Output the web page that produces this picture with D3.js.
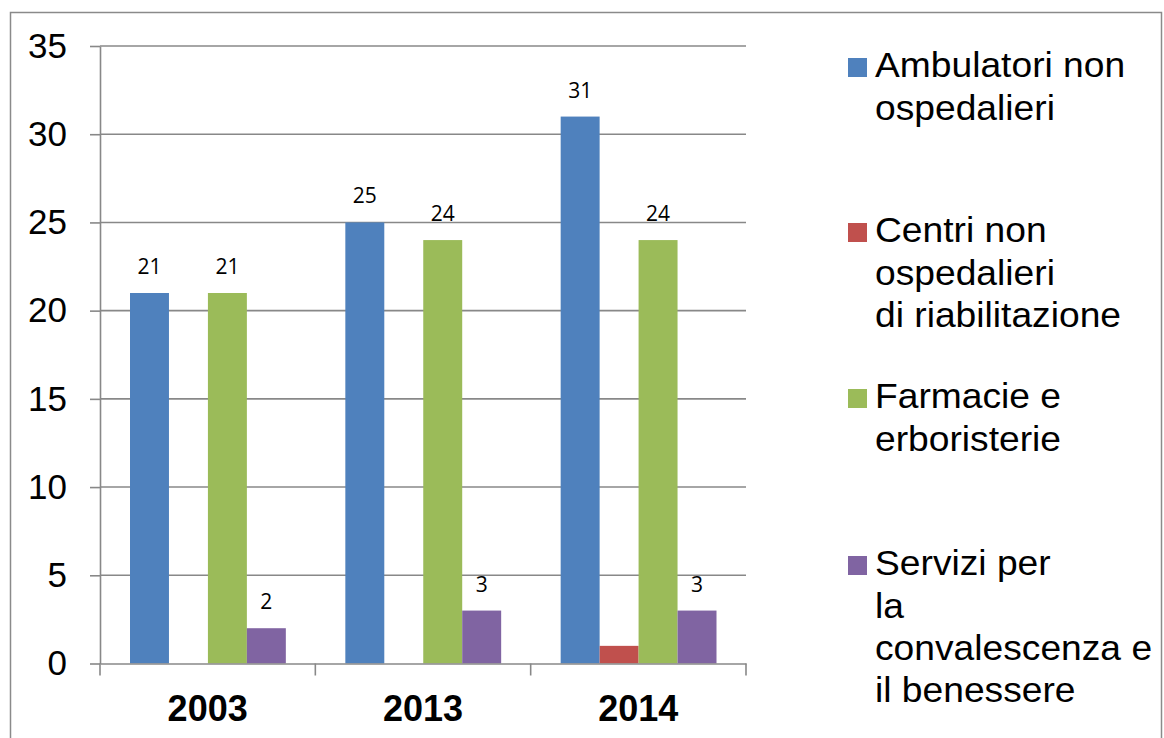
<!DOCTYPE html>
<html><head><meta charset="utf-8">
<script src="https://cdn.jsdelivr.net/npm/d3@7"></script>
<style>body{margin:0;background:#fff}</style>
</head><body>
<svg id="c" width="1164" height="738"></svg>
<script>
const categories = ["2003", "2013", "2014"];
const seriesNames = [
  ["Ambulatori non", "ospedalieri"],
  ["Centri non", "ospedalieri", "di riabilitazione"],
  ["Farmacie e", "erboristerie"],
  ["Servizi per", "la", "convalescenza e", "il benessere"]
];
const ambulatori = [21, 25, 31];
const centri = [0, 0, 1];
const farmacie = [21, 24, 24];
const servizi = [2, 3, 3];
const showLabels = [true, false, true, true];
const colors = ["#4F81BD", "#C0504D", "#9BBB59", "#8064A2"];
const yTicks = [0, 5, 10, 15, 20, 25, 30, 35];

(function () {
const series = [ambulatori, centri, farmacie, servizi];
const svg = d3.select("#c");

svg.append("rect").attr("x", 10.5).attr("y", 12.5).attr("width", 1151).attr("height", 740)
  .attr("fill", "none").attr("stroke", "#8a8a8a").attr("stroke-width", 1.5);

const pLeft = 100, pRight = 746, pTop = 46, pBottom = 663.5;
const y = d3.scaleLinear().domain([0, 35]).range([pBottom, pTop]);
const x0 = d3.scaleBand().domain(categories).range([pLeft, pRight]).padding(0);
const x1 = d3.scaleBand().domain(d3.range(4)).range([30, x0.bandwidth() - 29.5]).padding(0);

// gridlines
svg.append("g").selectAll("line").data(yTicks.filter(d => d > 0)).join("line")
  .attr("x1", pLeft).attr("x2", pRight).attr("y1", d => y(d)).attr("y2", d => y(d))
  .attr("stroke", "#888").attr("stroke-width", 1.6);

// y axis
const ya = svg.append("g").attr("transform", `translate(${pLeft},0)`)
  .call(d3.axisLeft(y).tickValues(yTicks).tickSize(10).tickPadding(23).tickSizeOuter(0));
ya.select(".domain").attr("stroke", "#888").attr("stroke-width", 1.6);
ya.selectAll(".tick line").attr("stroke", "#888").attr("stroke-width", 1.6);
ya.selectAll(".tick text").attr("font-family", "Liberation Sans, Arial, sans-serif")
  .attr("font-size", 35).attr("fill", "#000");

// bars
const g = svg.append("g");
categories.forEach((c, ci) => {
  series.forEach((s, si) => {
    const v = s[ci];
    if (v > 0) {
      g.append("rect").attr("x", x0(c) + x1(si)).attr("width", x1.bandwidth())
        .attr("y", y(v)).attr("height", y(0) - y(v)).attr("fill", colors[si]);
    }
    if (showLabels[si] && v > 0) {
      g.append("text").attr("x", x0(c) + x1(si) + x1.bandwidth() / 2)
        .attr("y", y(v) - 19).attr("text-anchor", "middle")
        .attr("font-family", "Open Sans, Noto Sans, sans-serif").attr("font-size", 21)
        .attr("fill", "#000").text(v);
    }
  });
});

// x axis
const xa = svg.append("g").attr("transform", `translate(0,${pBottom})`)
  .call(d3.axisBottom(x0).tickSize(0).tickPadding(0).tickSizeOuter(0));
xa.select(".domain").attr("stroke", "#888").attr("stroke-width", 1.6);
xa.selectAll(".tick text").attr("dy", null).attr("y", 57)
  .attr("font-family", "Liberation Sans, Arial, sans-serif").attr("font-weight", "bold")
  .attr("font-size", 36).attr("fill", "#000");
const bounds = categories.map(c => x0(c)).concat([pRight]);
svg.append("g").selectAll("line").data(bounds).join("line")
  .attr("x1", d => d).attr("x2", d => d).attr("y1", pBottom).attr("y2", pBottom + 12)
  .attr("stroke", "#888").attr("stroke-width", 1.6);

// legend
const legendTops = [58, 223, 389, 556];
const lg = svg.append("g");
seriesNames.forEach((lines, i) => {
  lg.append("rect").attr("x", 848).attr("y", legendTops[i]).attr("width", 19).attr("height", 19)
    .attr("fill", colors[i]);
  const t = lg.append("text").attr("font-family", "Liberation Sans, Arial, sans-serif")
    .attr("font-size", 35).attr("fill", "#000")
    .attr("transform", "translate(875,0) scale(1.063,1)");
  lines.forEach((ln, li) => {
    t.append("tspan").attr("x", 0).attr("y", legendTops[i] + 19.5 + li * 42.3).text(ln);
  });
});
})();
</script>
</body></html>
